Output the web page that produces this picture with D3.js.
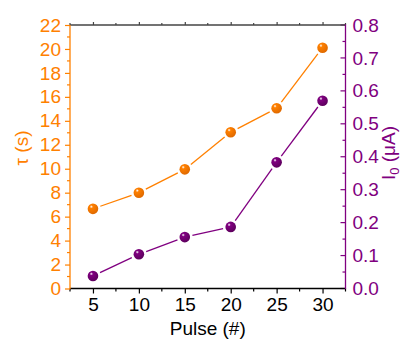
<!DOCTYPE html>
<html>
<head>
<meta charset="utf-8">
<script src="https://cdn.jsdelivr.net/npm/d3@7"></script>
<style>
  html, body { margin: 0; padding: 0; background: #fff; }
  svg { display: block; font-family: "Liberation Sans", Arial, sans-serif; }
</style>
</head>
<body>
<svg id="chart" width="407" height="343"></svg>
<script>
// Pulse number vs. time constant (left axis) and current I0 (right axis)
const pulses = [5, 10, 15, 20, 25, 30];
const tauValues = [6.65, 8.0, 9.95, 13.05, 15.05, 20.1];
const currentValues = [0.038, 0.104, 0.156, 0.187, 0.383, 0.570];
const xTicks = [5, 10, 15, 20, 25, 30];
const tauTicks = [0, 2, 4, 6, 8, 10, 12, 14, 16, 18, 20, 22];
const currentTicks = [0.0, 0.1, 0.2, 0.3, 0.4, 0.5, 0.6, 0.7, 0.8];

const ORANGE = "#ff8000";
const PURPLE = "#800080";

const svg = d3.select("#chart");
const m = { left: 70, right: 345.5, top: 25, bottom: 288.5 };

const x = d3.scaleLinear().domain([2.5, 32.5]).range([m.left, m.right]);
const yL = d3.scaleLinear().domain([0, 22]).range([m.bottom, m.top]);
const yR = d3.scaleLinear().domain([0, 0.8]).range([m.bottom, m.top]);

// marker gradients (shaded spheres)
const defs = svg.append("defs");
function sphere(id, base, dark) {
  const g = defs.append("radialGradient").attr("id", id)
    .attr("cx", "35%").attr("cy", "30%").attr("r", "70%");
  g.append("stop").attr("offset", "0%").attr("stop-color", "#fff").attr("stop-opacity", 0.9);
  g.append("stop").attr("offset", "22%").attr("stop-color", base);
  g.append("stop").attr("offset", "100%").attr("stop-color", dark);
}
sphere("gOrange", ORANGE, "#e06a00");
sphere("gPurple", PURPLE, "#5e005e");

const fontSize = 19;

// minor tick helper
function minorTicks(g, values, scale, orient, len, color) {
  g.selectAll(null).data(values).enter().append("line")
    .attr("x1", d => orient === "h" ? scale(d) : 0)
    .attr("x2", d => orient === "h" ? scale(d) : len)
    .attr("y1", d => orient === "h" ? 0 : scale(d))
    .attr("y2", d => orient === "h" ? len : scale(d))
    .attr("stroke", color).attr("stroke-width", 1.2);
}

// bottom axis
const xAxis = svg.append("g").attr("transform", `translate(0,${m.bottom})`)
  .call(d3.axisBottom(x).tickValues(xTicks).tickSize(5).tickPadding(4).tickFormat(d3.format("d")));
xAxis.select(".domain").remove();
xAxis.selectAll(".tick line").attr("stroke", "#000").attr("stroke-width", 1.2);
xAxis.selectAll(".tick text").attr("font-size", fontSize).attr("fill", "#000")
  .attr("font-family", "Liberation Sans, Arial, sans-serif");
minorTicks(xAxis, d3.range(2.5, 33, 5), x, "h", 3, "#000");

// top axis
const xTop = svg.append("g").attr("transform", `translate(0,${m.top})`)
  .call(d3.axisTop(x).tickValues(xTicks).tickSize(3).tickFormat(""));
xTop.select(".domain").remove();
xTop.selectAll(".tick line").attr("stroke", "#444").attr("stroke-width", 1.2);
minorTicks(xTop, d3.range(2.5, 33, 5), x, "h", -2, "#444");

// left axis
const yAxisL = svg.append("g").attr("transform", `translate(${m.left},0)`)
  .call(d3.axisLeft(yL).tickValues(tauTicks).tickSize(5).tickPadding(4).tickFormat(d3.format("d")));
yAxisL.select(".domain").remove();
yAxisL.selectAll(".tick line").attr("stroke", ORANGE).attr("stroke-width", 1.2);
yAxisL.selectAll(".tick text").attr("font-size", fontSize).attr("fill", ORANGE)
  .attr("font-family", "Liberation Sans, Arial, sans-serif");
minorTicks(yAxisL, d3.range(1, 22, 2), yL, "v", -3, ORANGE);

// right axis (ticks point inward)
const yAxisR = svg.append("g").attr("transform", `translate(${m.right},0)`)
  .call(d3.axisRight(yR).tickValues(currentTicks).tickSize(0).tickPadding(7).tickFormat(d3.format(".1f")));
yAxisR.select(".domain").remove();
yAxisR.selectAll(".tick text").attr("font-size", fontSize).attr("fill", PURPLE)
  .attr("font-family", "Liberation Sans, Arial, sans-serif");
yAxisR.selectAll(null).data(currentTicks).enter().append("line")
  .attr("x1", -5).attr("x2", 0).attr("y1", d => yR(d)).attr("y2", d => yR(d))
  .attr("stroke", PURPLE).attr("stroke-width", 1.2);
minorTicks(yAxisR, d3.range(0.05, 0.8, 0.1), yR, "v", -3, PURPLE);

// frame lines
svg.append("line").attr("x1", m.left).attr("x2", m.right).attr("y1", m.top).attr("y2", m.top)
  .attr("stroke", "#444").attr("stroke-width", 1.3);
svg.append("line").attr("x1", m.left).attr("x2", m.right).attr("y1", m.bottom).attr("y2", m.bottom)
  .attr("stroke", "#000").attr("stroke-width", 1.3);
svg.append("line").attr("x1", m.left).attr("x2", m.left).attr("y1", m.top).attr("y2", m.bottom + 0.6)
  .attr("stroke", ORANGE).attr("stroke-width", 1.3);
svg.append("line").attr("x1", m.right).attr("x2", m.right).attr("y1", m.top - 0.6).attr("y2", m.bottom + 0.6)
  .attr("stroke", PURPLE).attr("stroke-width", 1.3);

// data series: connecting segments stop short of the markers
const R = 5.3, GAP = 2.5;
function series(xs, ys, yScale, color, grad) {
  const pts = xs.map((d, i) => [x(d), yScale(ys[i])]);
  const segs = d3.pairs(pts).map(([a, b]) => {
    const dx = b[0] - a[0], dy = b[1] - a[1], L = Math.hypot(dx, dy);
    const k = (R + GAP) / L;
    return [a[0] + dx * k, a[1] + dy * k, b[0] - dx * k, b[1] - dy * k];
  });
  const g = svg.append("g");
  g.selectAll("line").data(segs).enter().append("line")
    .attr("x1", d => d[0]).attr("y1", d => d[1]).attr("x2", d => d[2]).attr("y2", d => d[3])
    .attr("stroke", color).attr("stroke-width", 1.3);
  g.selectAll("circle").data(pts).enter().append("circle")
    .attr("cx", d => d[0]).attr("cy", d => d[1]).attr("r", R)
    .attr("fill", `url(#${grad})`);
}
series(pulses, tauValues, yL, ORANGE, "gOrange");
series(pulses, currentValues, yR, PURPLE, "gPurple");

// axis titles
svg.append("text").attr("x", (m.left + m.right) / 2).attr("y", 335)
  .attr("text-anchor", "middle").attr("font-size", fontSize).attr("fill", "#000")
  .text("Pulse (#)");

svg.append("text").attr("transform", "translate(28,148) rotate(-90)")
  .attr("text-anchor", "middle").attr("font-size", fontSize).attr("fill", ORANGE)
  .text("τ (s)");

const rt = svg.append("text").attr("transform", "translate(395,153) rotate(-90)")
  .attr("text-anchor", "middle").attr("font-size", fontSize).attr("fill", PURPLE);
rt.append("tspan").text("I");
rt.append("tspan").attr("font-size", 13).attr("dy", 4).text("0");
rt.append("tspan").attr("dy", -4).text(" (μA)");
</script>
</body>
</html>
